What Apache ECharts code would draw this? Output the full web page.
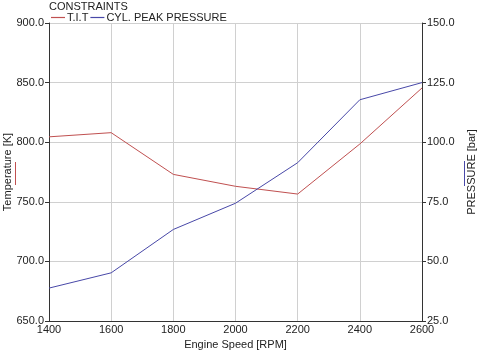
<!DOCTYPE html>
<html>
<head>
<meta charset="utf-8">
<script src="https://cdn.jsdelivr.net/npm/echarts@6/dist/echarts.min.js"></script>
<style>html,body{margin:0;padding:0;background:#fff;}#c{width:480px;height:351px;}</style>
</head>
<body>
<div id="c"></div>
<script>
const rpm = [1400, 1600, 1800, 2000, 2200, 2400, 2600];
const tit = [804.5, 808, 773, 763, 756.5, 798.5, 845.5];
const pressure = [38.8, 45.2, 63.4, 74.4, 91.4, 117.8, 125.0];
const seriesNames = ['T.I.T', 'CYL. PEAK PRESSURE'];

const FONT = 'Liberation Sans, Arial, sans-serif';
const RED = '#c05050';
const BLUE = '#4848a8';
const TXT = '#222';
const chart = echarts.init(document.getElementById('c'), null, {renderer: 'canvas'});
chart.setOption({
  animation: false,
  backgroundColor: '#fff',
  textStyle: {fontFamily: FONT},
  title: {text: 'CONSTRAINTS', left: 49, top: 1, padding: 0, textStyle: {fontSize: 11, fontWeight: 'normal', color: TXT, fontFamily: FONT}},
  legend: {
    left: 51, top: 12, padding: 0, icon: 'rect', itemWidth: 14, itemHeight: 1.2, itemGap: 2,
    textStyle: {fontSize: 11, color: TXT, fontFamily: FONT, padding: [0, 0, 0, -3]},
    data: seriesNames
  },
  grid: {left: 49, right: 58, top: 23, bottom: 30, outerBoundsMode: 'none', containLabel: false},
  xAxis: {
    type: 'value', min: 1400, max: 2600, interval: 200,
    name: 'Engine Speed [RPM]', nameLocation: 'middle', nameGap: 18, nameMoveOverlap: false,
    nameTextStyle: {fontSize: 11, color: TXT, fontFamily: FONT},
    axisLine: {show: true, lineStyle: {color: '#333', width: 1}},
    axisTick: {show: false},
    axisLabel: {fontSize: 11, color: TXT, fontFamily: FONT, margin: 3, formatter: v => String(v)},
    splitLine: {show: true, lineStyle: {color: '#d0d0d0', width: 1}}
  },
  yAxis: [{
    type: 'value', position: 'left', min: 650, max: 900, interval: 50,
    name: 'Temperature [K]', nameLocation: 'middle', nameGap: 36, nameMoveOverlap: false,
    nameTextStyle: {fontSize: 11, color: TXT, fontFamily: FONT},
    axisLine: {show: true, lineStyle: {color: '#333', width: 1}},
    axisTick: {show: true, length: 4, lineStyle: {color: '#333'}},
    axisLabel: {fontSize: 11, color: TXT, fontFamily: FONT, margin: 5, formatter: v => v.toFixed(1)},
    splitLine: {show: true, lineStyle: {color: '#d0d0d0', width: 1}}
  }, {
    type: 'value', position: 'right', min: 25, max: 150, interval: 25,
    name: 'PRESSURE [bar]', nameLocation: 'middle', nameGap: 44, nameRotate: 90, nameMoveOverlap: false,
    nameTextStyle: {fontSize: 11, color: TXT, fontFamily: FONT},
    axisLine: {show: true, lineStyle: {color: '#333', width: 1}},
    axisTick: {show: true, length: 4, lineStyle: {color: '#333'}},
    axisLabel: {fontSize: 11, color: TXT, fontFamily: FONT, margin: 5, formatter: v => v.toFixed(1)},
    splitLine: {show: false}
  }],
  graphic: [
    {type: 'line', shape: {x1: 15.5, y1: 162, x2: 15.5, y2: 185}, style: {stroke: RED, lineWidth: 1}},
    {type: 'line', shape: {x1: 464.5, y1: 161, x2: 464.5, y2: 186}, style: {stroke: BLUE, lineWidth: 1}}
  ],
  series: [{
    name: seriesNames[0], type: 'line', yAxisIndex: 0, symbol: 'none',
    color: RED, lineStyle: {width: 1, color: RED},
    data: rpm.map((r, i) => [r, tit[i]])
  }, {
    name: seriesNames[1], type: 'line', yAxisIndex: 1, symbol: 'none',
    color: BLUE, lineStyle: {width: 1, color: BLUE},
    data: rpm.map((r, i) => [r, pressure[i]])
  }]
});
</script>
</body>
</html>
